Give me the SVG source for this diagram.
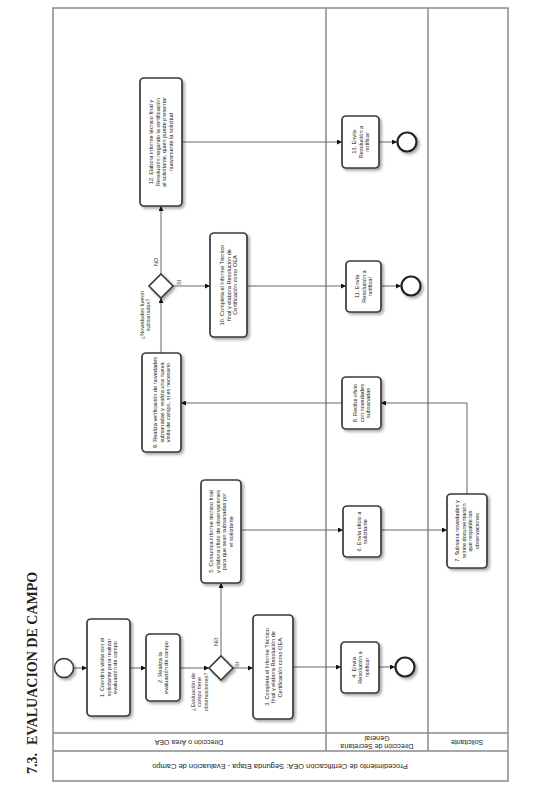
<svg xmlns="http://www.w3.org/2000/svg" width="545" height="806" viewBox="0 0 545 806">
<style>
.pool{fill:none;stroke:#8a8a8a;stroke-width:1.5}
.lane{stroke:#8a8a8a;stroke-width:1.5;fill:none}
.task{fill:#fff;stroke:#3a3a3a;stroke-width:1.7}
.gw{fill:#fff;stroke:#3a3a3a;stroke-width:1.6}
.ev{fill:#fff;stroke:#333;stroke-width:1.5}
.end{fill:#fff;stroke:#222;stroke-width:2.2}
.flow{fill:none;stroke:#666;stroke-width:1}
.t{font-family:"Liberation Sans",Arial,sans-serif;font-size:5.6px;fill:#222}
.lbl{font-family:"Liberation Sans",Arial,sans-serif;font-size:5.5px;fill:#333}
.hdr{font-family:"Liberation Sans",Arial,sans-serif;font-size:7px;fill:#222}
.title{font-family:"Liberation Serif","Times New Roman",serif;font-size:14px;font-weight:bold;fill:#222}
</style>
<defs>
<filter id="sh" x="-30%" y="-30%" width="160%" height="160%">
<feGaussianBlur in="SourceAlpha" stdDeviation="1.5"/>
<feOffset dx="1.5" dy="1.5" result="b"/>
<feComponentTransfer><feFuncA type="linear" slope="0.35"/></feComponentTransfer>
<feMerge><feMergeNode/><feMergeNode in="SourceGraphic"/></feMerge>
</filter>
<marker id="ar" viewBox="0 0 10 10" refX="10" refY="5" markerWidth="5" markerHeight="5" orient="auto" markerUnits="userSpaceOnUse">
<path d="M0,0 L10,5 L0,10 z" fill="#111"/>
</marker>
</defs>
<rect width="545" height="806" fill="#fff"/>

<text class="title" transform="translate(37,774) rotate(-90)">7.3.<tspan dx="8">EVALUACION DE CAMPO</tspan></text>

<g id="pool">
<rect class="pool" x="53" y="8" width="455" height="773"/>
<line class="lane" x1="53" y1="751" x2="508" y2="751"/>
<line class="lane" x1="53" y1="733" x2="508" y2="733"/>
<line class="lane" x1="326" y1="8" x2="326" y2="751"/>
<line class="lane" x1="428" y1="8" x2="428" y2="751"/>
<text class="hdr" transform="translate(280,766) rotate(180)" text-anchor="middle" y="2.5" style="font-size:7.5px">Procedimiento de Certificación OEA: Segunda Etapa - Evaluación de Campo</text>
<text class="hdr" transform="translate(189,742) rotate(180)" text-anchor="middle" y="2.5">Dirección o Área OEA</text>
<text class="hdr" transform="translate(377,742) rotate(180)" text-anchor="middle"><tspan x="0" y="-1.5">Dirección de Secretaría</tspan><tspan x="0" y="6.5">General</tspan></text>
<text class="hdr" transform="translate(467,742) rotate(180)" text-anchor="middle" y="2.5">Solicitante</text>
</g>

<g id="connectors">
<line class="flow" x1="73.5" y1="668" x2="87" y2="668" marker-end="url(#ar)"/>
<line class="flow" x1="130" y1="668" x2="146" y2="668" marker-end="url(#ar)"/>
<line class="flow" x1="180" y1="668" x2="209" y2="668" marker-end="url(#ar)"/>
<line class="flow" x1="233" y1="668" x2="253" y2="668" marker-end="url(#ar)"/>
<line class="flow" x1="221" y1="656" x2="221" y2="583" marker-end="url(#ar)"/>
<line class="flow" x1="293" y1="667" x2="341" y2="667" marker-end="url(#ar)"/>
<line class="flow" x1="379" y1="667" x2="395" y2="667" marker-end="url(#ar)"/>
<line class="flow" x1="241" y1="530" x2="343" y2="530" marker-end="url(#ar)"/>
<line class="flow" x1="381" y1="530" x2="447" y2="530" marker-end="url(#ar)"/>
<polyline class="flow" points="467,494 467,403 381,403" marker-end="url(#ar)"/>
<line class="flow" x1="342" y1="403" x2="181" y2="403" marker-end="url(#ar)"/>
<line class="flow" x1="161" y1="353" x2="161" y2="298" marker-end="url(#ar)"/>
<line class="flow" x1="173" y1="286" x2="210" y2="286" marker-end="url(#ar)"/>
<line class="flow" x1="161" y1="274" x2="161" y2="206" marker-end="url(#ar)"/>
<line class="flow" x1="247" y1="286" x2="346" y2="286" marker-end="url(#ar)"/>
<line class="flow" x1="381" y1="286" x2="401" y2="286" marker-end="url(#ar)"/>
<line class="flow" x1="182" y1="142" x2="342" y2="142" marker-end="url(#ar)"/>
<line class="flow" x1="379" y1="142" x2="397" y2="142" marker-end="url(#ar)"/>
<text class="lbl" transform="translate(218,646) rotate(-90)">NO</text>
<text class="lbl" transform="translate(239,667) rotate(-90)">SI</text>
<text class="lbl" transform="translate(158,266) rotate(-90)">NO</text>
<text class="lbl" transform="translate(181,285) rotate(-90)">SI</text>
</g>

<g id="start" filter="url(#sh)"><circle class="ev" cx="64" cy="668" r="9.5"/></g>

<g id="t1"><rect class="task" filter="url(#sh)" x="87" y="619" width="43" height="97" rx="4"/>
<text class="t" transform="translate(108.5,667.5) rotate(-90)" text-anchor="middle"><tspan x="0" y="-4.5">1. Coordina visita con el</tspan><tspan x="0" y="2">solicitante para realizar</tspan><tspan x="0" y="8.5">evaluación de campo</tspan></text></g>

<g id="t2"><rect class="task" filter="url(#sh)" x="146" y="634" width="34" height="67" rx="4"/>
<text class="t" transform="translate(163,667.5) rotate(-90)" text-anchor="middle"><tspan x="0" y="-1.2">2. Realiza la</tspan><tspan x="0" y="5.3">evaluación de campo</tspan></text></g>

<g id="g1"><path class="gw" filter="url(#sh)" d="M221,656 L233,668 L221,680 L209,668 Z"/>
<text class="lbl" transform="translate(199,692) rotate(-90)" text-anchor="middle"><tspan x="0" y="-4.5">¿Evaluación de</tspan><tspan x="0" y="2">campo tiene</tspan><tspan x="0" y="8.5">observaciones?</tspan></text></g>

<g id="t3"><rect class="task" filter="url(#sh)" x="253" y="615" width="40" height="104" rx="4"/>
<text class="t" transform="translate(273,667) rotate(-90)" text-anchor="middle"><tspan x="0" y="-4.5">3. Completa el Informe Técnico</tspan><tspan x="0" y="2">final y elabora Resolución de</tspan><tspan x="0" y="8.5">Certificación como OEA.</tspan></text></g>

<g id="t4"><rect class="task" filter="url(#sh)" x="341" y="642" width="38" height="51" rx="4"/>
<text class="t" transform="translate(360,667.5) rotate(-90)" text-anchor="middle"><tspan x="0" y="-4.5">4. Envía</tspan><tspan x="0" y="2">Resolución a</tspan><tspan x="0" y="8.5">notificar</tspan></text></g>

<g id="e1" filter="url(#sh)"><circle class="end" cx="405" cy="667" r="9.5"/></g>

<g id="t5"><rect class="task" filter="url(#sh)" x="201" y="480" width="40" height="103" rx="4"/>
<text class="t" transform="translate(221,531.5) rotate(-90)" text-anchor="middle"><tspan x="0" y="-7.8">5. Comunica informe técnico final</tspan><tspan x="0" y="-1.3">y elabora oficio de observaciones</tspan><tspan x="0" y="5.2">para que sean subsanadas por</tspan><tspan x="0" y="11.7">el solicitante</tspan></text></g>

<g id="t6"><rect class="task" filter="url(#sh)" x="343" y="506" width="38" height="51" rx="4"/>
<text class="t" transform="translate(362,531.5) rotate(-90)" text-anchor="middle"><tspan x="0" y="-1.2">6. Envía oficio a</tspan><tspan x="0" y="5.3">solicitante</tspan></text></g>

<g id="t7"><rect class="task" filter="url(#sh)" x="447" y="494" width="40" height="74" rx="4"/>
<text class="t" transform="translate(467,531) rotate(-90)" text-anchor="middle"><tspan x="0" y="-7.8">7. Subsana novedades y</tspan><tspan x="0" y="-1.3">remite documentación</tspan><tspan x="0" y="5.2">que respalde las</tspan><tspan x="0" y="11.7">observaciones</tspan></text></g>

<g id="t8"><rect class="task" filter="url(#sh)" x="342" y="377" width="39" height="52" rx="4"/>
<text class="t" transform="translate(361.5,403) rotate(-90)" text-anchor="middle"><tspan x="0" y="-4.5">8. Recibe oficio</tspan><tspan x="0" y="2">con novedades</tspan><tspan x="0" y="8.5">subsanadas</tspan></text></g>

<g id="t9"><rect class="task" filter="url(#sh)" x="142" y="353" width="39" height="99" rx="4"/>
<text class="t" transform="translate(161.5,402.5) rotate(-90)" text-anchor="middle"><tspan x="0" y="-4.5">9. Realiza verificación de novedades</tspan><tspan x="0" y="2">subsanadas y realiza una nueva</tspan><tspan x="0" y="8.5">visita de campo, si es necesario</tspan></text></g>

<g id="g2"><path class="gw" filter="url(#sh)" d="M161,274 L173,286 L161,298 L149,286 Z"/>
<text class="lbl" transform="translate(145,315) rotate(-90)" text-anchor="middle"><tspan x="0" y="-1.2">¿Novedades fueron</tspan><tspan x="0" y="5.3">subsanadas?</tspan></text></g>

<g id="t10"><rect class="task" filter="url(#sh)" x="210" y="233" width="37" height="104" rx="4"/>
<text class="t" transform="translate(228.5,285) rotate(-90)" text-anchor="middle"><tspan x="0" y="-4.5">10. Completa el Informe Técnico</tspan><tspan x="0" y="2">final y elabora Resolución de</tspan><tspan x="0" y="8.5">Certificación como OEA</tspan></text></g>

<g id="t11"><rect class="task" filter="url(#sh)" x="346" y="261" width="35" height="51" rx="4"/>
<text class="t" transform="translate(363.5,286.5) rotate(-90)" text-anchor="middle"><tspan x="0" y="-4.5">11. Envía</tspan><tspan x="0" y="2">Resolución a</tspan><tspan x="0" y="8.5">notificar</tspan></text></g>

<g id="e2" filter="url(#sh)"><circle class="end" cx="411" cy="286" r="9.5"/></g>

<g id="t12"><rect class="task" filter="url(#sh)" x="140" y="78" width="42" height="128" rx="4"/>
<text class="t" transform="translate(161,142) rotate(-90)" text-anchor="middle"><tspan x="0" y="-7.8">12. Elabora informe técnico final y</tspan><tspan x="0" y="-1.3">Resolución negando la certificación</tspan><tspan x="0" y="5.2">al solicitante, quien puede presentar</tspan><tspan x="0" y="11.7">nuevamente la solicitud</tspan></text></g>

<g id="t13"><rect class="task" filter="url(#sh)" x="342" y="116" width="37" height="52" rx="4"/>
<text class="t" transform="translate(360.5,142) rotate(-90)" text-anchor="middle"><tspan x="0" y="-4.5">13. Envía</tspan><tspan x="0" y="2">Resolución a</tspan><tspan x="0" y="8.5">notificar</tspan></text></g>

<g id="e3" filter="url(#sh)"><circle class="end" cx="407" cy="142" r="9.5"/></g>
</svg>
